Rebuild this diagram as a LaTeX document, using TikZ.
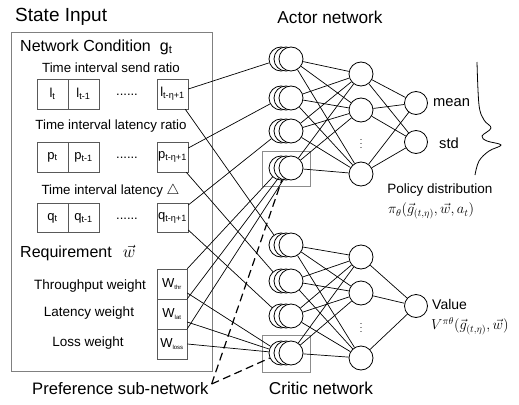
\documentclass[tikz,border=0pt]{standalone}
\usepackage{fontspec}
\setmainfont{Liberation Sans}
\usetikzlibrary{calc}
\newcommand\fsz[1]{\fontsize{#1}{#1}\selectfont}
\newcommand\nstack[3]{%
  \node[neuron] (#1b) at (#2-10,#3) {};
  \node[neuron] (#1m) at (#2-5,#3) {};
  \node[neuron] (#1) at (#2,#3) {};}
\begin{document}
\begin{tikzpicture}[x=1pt,y=-1pt,
  cell/.style={draw=black!65, line width=0.6pt, minimum width=31pt, minimum height=30pt, inner sep=0pt, font=\fsz{13}},
  wcell/.style={cell, minimum width=30pt},
  neuron/.style={circle, draw, fill=white, minimum size=24pt, inner sep=0pt, line width=0.8pt},
  conn/.style={line width=0.7pt},
  pref/.style={line width=1.2pt, dash pattern=on 8pt off 4.5pt},
  graybox/.style={draw=black!45, line width=0.8pt},
  lbl/.style={inner sep=0pt},
  every node/.append style={text=black}]
\useasboundingbox (0,0) rectangle (519,404);

% ---------- left panel ----------
\node[lbl, anchor=west, font=\fsz{19}] (stin) at (15,17) {State Input};
\draw[draw=black!50, line width=0.7pt] (11,32) rectangle (212,371);
\node[lbl, anchor=west, font=\fsz{16}] (nc) at (20,47) {Network Condition\hspace{9pt}g\textsubscript{t}};

\node[lbl, font=\fsz{13.3}] (t1) at (111,68) {Time interval send ratio};
\node[cell] (l1) at (52.5,94) {l\textsubscript{t}};
\node[cell] (l2) at (83.5,94) {l\textsubscript{t-1}};
\node[lbl, font=\fsz{13}] (ld) at (127,95) {......};
\node[cell] (lN) at (172.5,94) {l\textsubscript{t-η+1}};

\node[lbl, font=\fsz{13.3}] (t2) at (111,126) {Time interval latency ratio};
\node[cell] (p1) at (52.5,157) {p\textsubscript{t}};
\node[cell] (p2) at (83.5,157) {p\textsubscript{t-1}};
\node[lbl, font=\fsz{13}] (pd) at (127,158) {......};
\node[cell] (pN) at (172.5,157) {p\textsubscript{t-η+1}};

\node[lbl, font=\fsz{13.3}] (t3) at (110.5,191) {Time interval latency $\triangle$};
\node[cell, minimum height=29pt] (q1) at (52.5,218) {q\textsubscript{t}};
\node[cell, minimum height=29pt] (q2) at (83.5,218) {q\textsubscript{t-1}};
\node[lbl, font=\fsz{13}] (qd) at (127,219) {......};
\node[cell, minimum height=29pt] (qN) at (172.5,218) {q\textsubscript{t-η+1}};

\node[lbl, anchor=west, font=\fsz{16}] (req) at (20,253) {Requirement\hspace{11pt}$\vec{w}$};
\node[lbl, font=\fsz{13.5}] (tw) at (90,286) {Throughput weight};
\node[lbl, font=\fsz{13.5}] (lw) at (89,313) {Latency weight};
\node[lbl, font=\fsz{13.5}] (sw) at (88,343) {Loss weight};
\node[wcell] (wthr) at (172,284) {W\textsubscript{\fsz{6}thr}};
\node[wcell] (wlat) at (172,314) {W\textsubscript{\fsz{6}lat}};
\node[wcell] (wloss) at (172,344) {W\textsubscript{\fsz{6}loss}};

\node[lbl, anchor=west, font=\fsz{16.6}] (pref) at (32,389) {Preference sub-network};

% ---------- networks ----------
\node[lbl, font=\fsz{17.2}] (actl) at (330,17) {Actor network};
\node[lbl, font=\fsz{17.2}] (crl) at (321,388) {Critic network};

\draw[graybox] (262,151) rectangle (310,186);
\draw[graybox] (262,335) rectangle (310,372);

\nstack{a1}{291}{59}
\nstack{a2}{291}{98}
\nstack{a3}{291}{131}
\nstack{a4}{291}{168}
\node[neuron] (ah1) at (361,74) {};
\node[neuron] (ah2) at (361,110) {};
\node[neuron] (ah3) at (361,174) {};
\node[lbl, font=\fsz{9}] (adots) at (361,141) {$\vdots$};
\node[neuron, minimum size=23pt] (mean) at (416,103) {};
\node[neuron, minimum size=23pt] (std) at (416,142) {};
\node[lbl, anchor=west, font=\fsz{14.7}] (meanl) at (433,103) {mean};
\node[lbl, anchor=west, font=\fsz{14.7}] (stdl) at (439,143) {std};

\nstack{c1}{291}{245}
\nstack{c2}{291}{281}
\nstack{c3}{291}{316}
\nstack{c4}{291}{353}
\node[neuron] (ch1) at (361,257) {};
\node[neuron] (ch2) at (361,293) {};
\node[neuron] (ch3) at (361,358) {};
\node[lbl, font=\fsz{9}] (cdots) at (361,325) {$\vdots$};
\node[neuron, minimum size=23pt] (val) at (416,306) {};
\node[lbl, anchor=west, font=\fsz{14}] (vall) at (432,304) {Value};
\node[lbl, anchor=west, font=\fsz{14}] (vf) at (431,326) {$V^{\pi\theta}(\vec{g}_{(t,\eta)},\vec{w})$};

\node[lbl, font=\fsz{13.5}] (pold) at (440,190) {Policy distribution};
\node[lbl, anchor=west, font=\fsz{14}] (polf) at (388,211) {$\pi_\theta(\vec{g}_{(t,\eta)},\vec{w},a_t)$};

% distribution curve
\draw[line width=0.8pt] plot[smooth, tension=0.6] coordinates {(477,62) (479,105) (484,120) (491,128) (482,136) (487,141) (501,145) (489,151) (479,161) (475,175)};

% hidden connections
\foreach \i in {1,2,3,4}{\foreach \j in {1,2,3}{
  \draw[conn] (a\i) -- (ah\j);
  \draw[conn] (c\i) -- (ch\j);}}
\foreach \j in {1,2,3}{
  \draw[conn] (ah\j) -- (mean);
  \draw[conn] (ah\j) -- (std);
  \draw[conn] (ch\j) -- (val);}

% input connections
\draw[conn] ([yshift=5pt]lN.east) -- (a1b);
\draw[conn] ([xshift=-3pt]lN.south east) -- (c1b);
\draw[conn] ([yshift=9pt]pN.east) -- (a2b);
\draw[conn] ([xshift=-2pt]pN.south east) -- (c2b);
\draw[conn] ([yshift=13pt]qN.east) -- (a3b);
\draw[conn] ([yshift=-12pt]qN.east) -- (c3b);
\draw[conn] (wthr.north east) -- (a4b);
\draw[conn] (wlat.north east) -- (a4m);
\draw[conn] (wloss.north east) -- (a4);
\draw[conn] ([yshift=-9pt]wthr.east) -- (c4b);
\draw[conn] ([yshift=-8pt]wlat.east) -- (c4b);
\draw[conn] (wloss.east) -- (c4b);

% preference dashed lines
\coordinate (pe) at ($(pref.east)+(3,-5)$);
\draw[pref] (pe) -- (a4m);
\draw[pref] (pe) -- (c4b);
\end{tikzpicture}
\end{document}
